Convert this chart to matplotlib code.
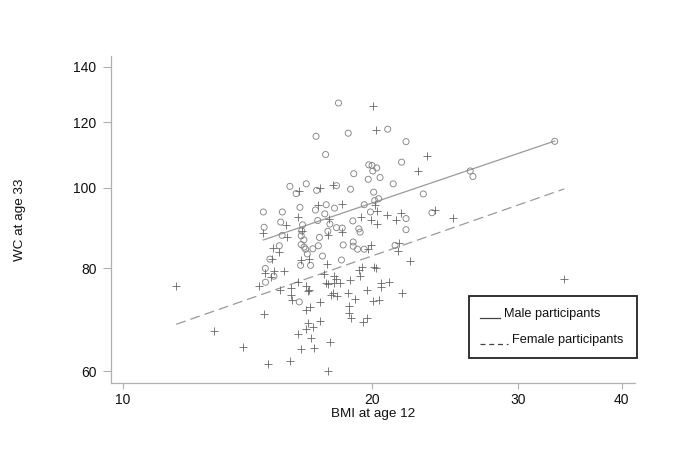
import matplotlib
matplotlib.use("Agg")
import matplotlib.pyplot as plt
from matplotlib.ticker import FixedLocator, NullLocator, FixedFormatter
from matplotlib.patches import Rectangle
from matplotlib.lines import Line2D

plt.rcParams['font.family'] = ['Liberation Sans', 'DejaVu Sans']

# ---- data (BMI at age 12, WC at age 33) ----
male_bmi = [18.2, 17.1, 18.7, 17.56, 15.9, 16.64, 16.18, 17.13, 18.1, 18.82,
            14.77, 15.57, 16.35, 17.59, 18.0, 17.07, 17.52, 15.5, 16.47, 17.18,
            17.77, 14.8, 16.43, 18.1, 18.39, 17.67, 20.87, 21.96, 21.69, 19.8,
            19.98, 20.24, 20.02, 18.99, 19.77, 20.43, 21.19, 20.07, 23.04, 20.35,
            20.13, 19.55, 19.89, 21.96, 18.94, 23.6, 19.26, 19.33, 21.96, 33.2,
            26.25, 26.45, 15.56, 15.44, 15.04, 14.85, 14.86, 15.21, 16.32, 16.41,
            16.53, 16.41, 16.54, 17.26, 17.21, 18.44, 16.61, 16.95, 16.69, 17.41,
            16.38, 16.84, 18.35, 18.96, 18.96, 19.19, 19.55, 21.3]
male_wc = [126.6, 115.4, 116.4, 109.7, 100.4, 101.1, 98.4, 99.3, 100.6, 99.6,
           93.5, 93.5, 94.7, 95.4, 94.5, 94.0, 93.0, 90.9, 90.2, 91.3,
           90.4, 89.6, 88.7, 89.5, 89.4, 88.6, 117.7, 113.7, 107.4, 106.6,
           106.4, 105.7, 104.8, 104.0, 102.4, 102.9, 101.1, 98.8, 98.3, 97.0,
           96.5, 95.4, 93.5, 91.8, 91.2, 93.3, 89.2, 88.4, 89.0, 113.8,
           104.8, 103.2, 87.6, 85.1, 82.0, 79.9, 76.9, 78.2, 72.8, 87.5,
           86.5, 85.4, 84.8, 87.1, 85.1, 85.3, 84.3, 84.4, 83.2, 82.7,
           80.6, 80.6, 81.8, 86.0, 85.0, 84.3, 84.3, 85.2]

female_bmi = [11.6, 12.89, 13.97, 14.96, 15.89, 16.3, 17.31, 17.94, 17.18, 18.39,
              17.72, 16.27, 15.75, 14.74, 16.43, 18.39, 20.04, 20.22, 23.28, 22.72,
              20.17, 20.28, 19.35, 19.94, 20.24, 20.81, 21.64, 21.36, 23.77, 25.0,
              19.94, 19.73, 21.56, 21.48, 22.18, 19.44, 19.26, 20.09, 20.21, 19.33,
              18.8, 20.5, 20.5, 20.93, 19.69, 18.68, 21.72, 19.04, 20.02, 20.35,
              18.76, 18.73, 18.83, 19.47, 19.69, 34.1, 15.78, 17.67, 15.15, 15.41,
              16.78, 15.12, 16.38, 17.65, 14.82, 15.2, 15.64, 15.1, 14.6, 15.47,
              16.28, 15.96, 16.64, 16.78, 16.71, 17.48, 17.98, 18.05, 17.57, 17.67,
              17.97, 18.3, 15.96, 16.01, 16.64, 16.81, 17.28, 17.84, 18.13, 17.94,
              14.8, 17.28, 16.7, 16.97, 16.63, 16.26, 16.87, 17.77, 16.4, 17.0,
              17.67]
female_wc = [76.1, 67.2, 64.3, 61.2, 61.8, 99.0, 100.0, 100.9, 95.2, 95.6,
             91.8, 92.2, 90.2, 88.3, 88.6, 88.4, 125.5, 117.5, 109.3, 104.7,
             95.2, 93.8, 92.3, 91.4, 90.5, 92.6, 93.3, 91.4, 94.1, 91.9,
             85.4, 84.3, 85.7, 83.8, 81.6, 80.2, 79.6, 80.2, 79.9, 78.3,
             77.4, 76.7, 75.8, 76.9, 75.2, 74.7, 74.7, 73.4, 73.0, 73.2,
             72.0, 70.6, 69.6, 68.9, 69.7, 77.5, 87.1, 87.6, 84.6, 83.7,
             82.0, 82.1, 81.7, 81.0, 78.8, 79.4, 79.4, 78.0, 76.1, 75.2,
             77.0, 75.7, 76.1, 75.3, 75.0, 78.7, 78.3, 77.6, 76.8, 76.5,
             76.8, 76.7, 74.3, 73.1, 71.1, 71.8, 72.8, 74.2, 74.1, 74.6,
             70.3, 69.1, 68.6, 67.9, 67.6, 66.5, 65.9, 65.1, 63.9, 64.0,
             60.0]

# fitted lines (end points)
male_fit_bmi = [14.77, 33.2]
male_fit_wc = [86.5, 113.9]
female_fit_bmi = [11.59, 34.1]
female_fit_wc = [68.4, 99.7]

x_ticks = [10, 20, 30, 40]
y_ticks = [60, 80, 100, 120, 140]
legend_labels = ["Male participants", "Female participants"]

fig = plt.figure(figsize=(6.74, 4.72), dpi=100)
ax = fig.add_axes([0.1647, 0.1886, 0.7774, 0.6928])

ax.scatter(male_bmi, male_wc, s=19, facecolors='none', edgecolors='#858585',
           linewidths=0.65, marker='o', zorder=3)
ax.scatter(female_bmi, female_wc, s=26, c='#666666', linewidths=0.6,
           marker='+', zorder=3)

ax.plot(male_fit_bmi, male_fit_wc, color='#9a9a9a', lw=0.9, zorder=2)
ax.plot(female_fit_bmi, female_fit_wc, color='#9a9a9a', lw=0.9,
        linestyle=(0, (8, 4)), zorder=2)

ax.set_xscale('log')
ax.set_yscale('log')
ax.set_xlim(9.67, 41.5)
ax.set_ylim(58.1, 144.3)

ax.xaxis.set_major_locator(FixedLocator(x_ticks))
ax.xaxis.set_major_formatter(FixedFormatter([str(t) for t in x_ticks]))
ax.xaxis.set_minor_locator(NullLocator())
ax.yaxis.set_major_locator(FixedLocator(y_ticks))
ax.yaxis.set_major_formatter(FixedFormatter([str(t) for t in y_ticks]))
ax.yaxis.set_minor_locator(NullLocator())

for s in ['top', 'right']:
    ax.spines[s].set_visible(False)
for s in ['left', 'bottom']:
    ax.spines[s].set_color('#b0b0b0')
    ax.spines[s].set_linewidth(0.9)

ax.tick_params(axis='x', length=4.5, width=0.8, color='#b0b0b0', pad=2.5,
               labelsize=10, labelcolor='#111111')
ax.tick_params(axis='y', length=5.5, width=0.8, color='#b0b0b0', pad=5,
               labelsize=10, labelcolor='#111111')

ax.set_xlabel("BMI at age 12", fontsize=9.7, color='#111111')
ax.set_ylabel("WC at age 33", fontsize=9.7, color='#111111')
ax.xaxis.set_label_coords(0.5, -0.076)
ax.yaxis.set_label_coords(-0.162, 0.5)

# legend box
ax.add_patch(Rectangle((0.683, 0.0774), 0.321, 0.19, transform=ax.transAxes,
                       fill=False, edgecolor='#222222', lw=1.3, clip_on=False,
                       zorder=5))
ax.add_line(Line2D([0.705, 0.742], [0.198, 0.198], transform=ax.transAxes,
                   color='#444444', lw=0.9, clip_on=False))
ax.add_line(Line2D([0.705, 0.757], [0.119, 0.119], transform=ax.transAxes,
                   color='#444444', lw=0.9, linestyle=(0, (4, 3)), clip_on=False))
ax.text(0.750, 0.211, legend_labels[0], transform=ax.transAxes, fontsize=9.2,
        va='center', ha='left', color='#111111')
ax.text(0.765, 0.131, legend_labels[1], transform=ax.transAxes, fontsize=9.2,
        va='center', ha='left', color='#111111')

fig.savefig("out.png", dpi=100, facecolor='white')
